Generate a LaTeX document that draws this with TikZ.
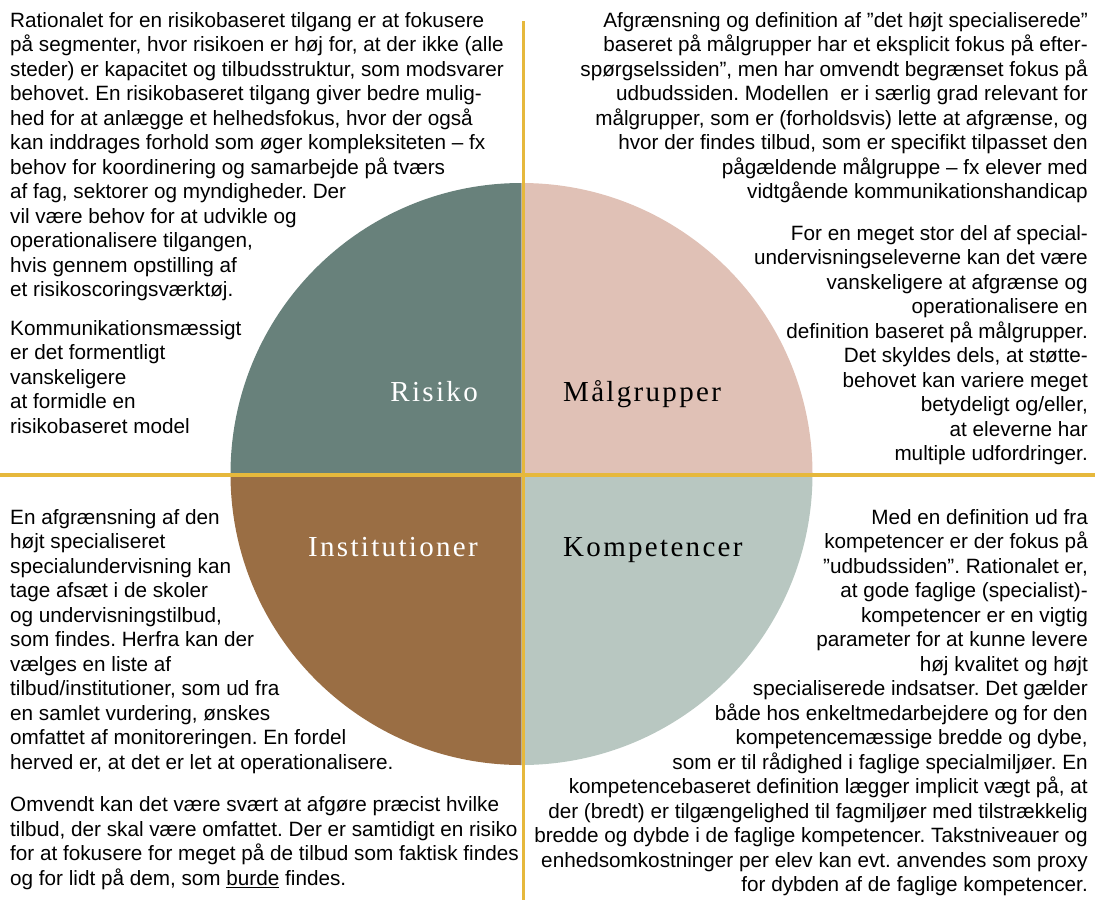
\documentclass[tikz,border=0pt]{standalone}
\usepackage{fontspec}
\setmainfont{Liberation Sans}
\newfontfamily\labelfont[LetterSpace=8]{Liberation Serif}
\frenchspacing
\definecolor{risikoteal}{HTML}{68817B}
\definecolor{maalpink}{HTML}{E0C1B6}
\definecolor{instbrown}{HTML}{9A6E44}
\definecolor{kompgray}{HTML}{B8C7C1}
\definecolor{axisgold}{HTML}{E6B83C}
\tikzset{
  quarterlabel/.style={font=\labelfont\fontsize{29}{33}\selectfont, inner sep=0pt},
  bodytext/.style={font=\fontsize{20.7}{24.5}\selectfont, inner sep=0pt},
  axisline/.style={draw=axisgold, line width=3.7pt}
}
\begin{document}
\begin{tikzpicture}[x=1pt,y=1pt]
            \useasboundingbox (0,0) rectangle (1095,-900);
            \coordinate (c) at (521.5,-474);
            \fill[risikoteal] (c) -- (230.5,-474) arc[start angle=180, end angle=90, radius=291] -- cycle;
            \fill[maalpink] (c) -- (812.5,-474) arc[start angle=0, end angle=90, radius=291] -- cycle;
            \fill[instbrown] (c) -- (230.5,-474) arc[start angle=180, end angle=270, radius=291] -- cycle;
            \fill[kompgray] (c) -- (812.5,-474) arc[start angle=0, end angle=-90, radius=291] -- cycle;
            \coordinate (vtop) at (523.5,-21);
            \coordinate (vbot) at (523.5,-900);
            \coordinate (hleft) at (0,-475);
            \coordinate (hright) at (1095,-475);
            \draw[axisline] (vtop) -- (vbot);
            \draw[axisline] (hleft) -- (hright);
            \node[quarterlabel, text=white, anchor=base east] (risiko) at (478,-401) {Risiko};
            \node[quarterlabel, text=black, anchor=base west] (maalgrupper) at (563,-401) {Målgrupper};
            \node[quarterlabel, text=white, anchor=base east] (institutioner) at (478,-556) {Institutioner};
            \node[quarterlabel, text=black, anchor=base west] (kompetencer) at (563,-556) {Kompetencer};
            \node[bodytext, align=left, anchor=north west] (risikotext) at (10,-10) {\strut Rationalet for en risikobaseret tilgang er at fokusere\\
                på segmenter, hvor risikoen er høj for, at der ikke (alle\\
                steder) er kapacitet og tilbudsstruktur, som modsvarer\\
                behovet. En risikobaseret tilgang giver bedre mulig-\\
                hed for at anlægge et helhedsfokus, hvor der også\\
                kan inddrages forhold som øger kompleksiteten – fx\\
                behov for koordinering og samarbejde på tværs\\
                af fag, sektorer og myndigheder. Der\\
                vil være behov for at udvikle og\\
                operationalisere tilgangen,\\
                hvis gennem opstilling af\\
                et risikoscoringsværktøj.\\[14pt]
                Kommunikationsmæssigt\\
                er det formentligt\\
                vanskeligere\\
                at formidle en\\
                risikobaseret model};
            \node[bodytext, align=right, anchor=north east] (maalgruppertext) at (1088,-10) {\strut Afgrænsning og definition af ”det højt specialiserede”\\
                baseret på målgrupper har et eksplicit fokus på efter-\\
                spørgselssiden”, men har omvendt begrænset fokus på\\
                udbudssiden. Modellen\ \ er i særlig grad relevant for\\
                målgrupper, som er (forholdsvis) lette at afgrænse, og\\
                hvor der findes tilbud, som er specifikt tilpasset den\\
                pågældende målgruppe – fx elever med\\
                vidtgående kommunikationshandicap\\[17pt]
                For en meget stor del af special-\\
                undervisningseleverne kan det være\\
                vanskeligere at afgrænse og\\
                operationalisere en\\
                definition baseret på målgrupper.\\
                Det skyldes dels, at støtte-\\
                behovet kan variere meget\\
                betydeligt og/eller,\\
                at eleverne har\\
                multiple udfordringer.};
            \node[bodytext, align=left, anchor=north west] (institutionertext) at (10,-507) {\strut En afgrænsning af den\\
                højt specialiseret\\
                specialundervisning kan\\
                tage afsæt i de skoler\\
                og undervisningstilbud,\\
                som findes. Herfra kan der\\
                vælges en liste af\\
                tilbud/institutioner, som ud fra\\
                en samlet vurdering, ønskes\\
                omfattet af monitoreringen. En fordel\\
                herved er, at det er let at operationalisere.\\[18pt]
                Omvendt kan det være svært at afgøre præcist hvilke\\
                tilbud, der skal være omfattet. Der er samtidigt en risiko\\
                for at fokusere for meget på de tilbud som faktisk findes\\
                og for lidt på dem, som \underline{burde} findes.};
            \node[bodytext, align=right, anchor=north east] (kompetencertext) at (1088,-507) {\strut Med en definition ud fra\\
                kompetencer er der fokus på\\
                ”udbudssiden”. Rationalet er,\\
                at gode faglige (specialist)-\\
                kompetencer er en vigtig\\
                parameter for at kunne levere\\
                høj kvalitet og højt\\
                specialiserede indsatser. Det gælder\\
                både hos enkeltmedarbejdere og for den\\
                kompetencemæssige bredde og dybe,\\
                som er til rådighed i faglige specialmiljøer. En\\
                kompetencebaseret definition lægger implicit vægt på, at\\
                der (bredt) er tilgængelighed til fagmiljøer med tilstrækkelig\\
                bredde og dybde i de faglige kompetencer. Takstniveauer og\\
                enhedsomkostninger per elev kan evt. anvendes som proxy\\
                for dybden af de faglige kompetencer.};
        \end{tikzpicture}
\end{document}
